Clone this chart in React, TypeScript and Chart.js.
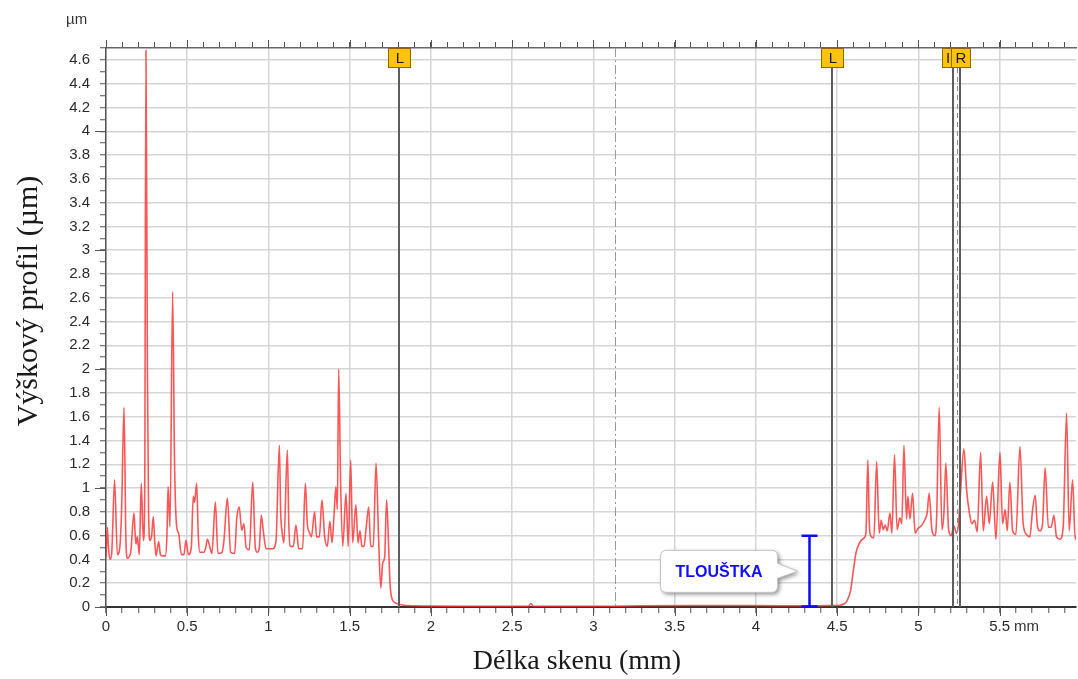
import React, { useEffect, useRef } from 'react';
import { Chart, registerables } from 'chart.js';

Chart.register(...registerables);

// ---- data ----
const profileX = [
  0.000, 0.008, 0.015, 0.025, 0.035, 0.053, 0.070, 0.085, 0.096, 0.111, 0.122, 0.131, 0.152, 0.172, 0.180,
  0.185, 0.193, 0.205, 0.217, 0.230, 0.238, 0.246, 0.255, 0.262, 0.271, 0.281, 0.291, 0.300, 0.308, 0.324,
  0.335, 0.345, 0.365, 0.375, 0.382, 0.394, 0.410, 0.422, 0.435, 0.447, 0.464, 0.480, 0.492, 0.507, 0.525,
  0.537, 0.545, 0.558, 0.568, 0.578, 0.603, 0.614, 0.624, 0.640, 0.652, 0.673, 0.689, 0.714, 0.726, 0.747,
  0.767, 0.792, 0.804, 0.820, 0.835, 0.849, 0.862, 0.882, 0.903, 0.919, 0.931, 0.943, 0.956, 0.968, 0.985,
  1.005, 1.026, 1.046, 1.067, 1.075, 1.083, 1.095, 1.116, 1.125, 1.132, 1.153, 1.169, 1.186, 1.210, 1.227,
  1.239, 1.251, 1.264, 1.284, 1.296, 1.313, 1.329, 1.346, 1.362, 1.378, 1.391, 1.403, 1.415, 1.424, 1.432,
  1.444, 1.457, 1.477, 1.491, 1.506, 1.518, 1.538, 1.551, 1.563, 1.575, 1.588, 1.600, 1.617, 1.629, 1.645,
  1.662, 1.678, 1.691, 1.703, 1.715, 1.727, 1.740, 1.748, 1.760, 1.775, 1.789, 1.830, 1.900, 2.000, 2.200,
  2.600, 2.615, 2.630, 3.000, 3.300, 3.600, 4.000, 4.300, 4.450, 4.517, 4.558, 4.583, 4.600, 4.615, 4.636,
  4.665, 4.677, 4.689, 4.698, 4.706, 4.726, 4.743, 4.759, 4.771, 4.783, 4.796, 4.808, 4.825, 4.837, 4.853,
  4.869, 4.886, 4.898, 4.911, 4.927, 4.935, 4.948, 4.964, 4.980, 4.997, 5.017, 5.042, 5.054, 5.066, 5.083,
  5.100, 5.112, 5.128, 5.145, 5.157, 5.169, 5.186, 5.202, 5.218, 5.235, 5.247, 5.260, 5.280, 5.297, 5.313,
  5.329, 5.346, 5.362, 5.383, 5.399, 5.420, 5.436, 5.457, 5.477, 5.502, 5.518, 5.534, 5.547, 5.563, 5.580,
  5.600, 5.625, 5.645, 5.666, 5.686, 5.703, 5.719, 5.731, 5.748, 5.764, 5.780, 5.800, 5.817, 5.834, 5.850,
  5.871, 5.891, 5.912, 5.928, 5.949, 5.965, 5.970,
];
const profileY = [
  0.42, 0.67, 0.50, 0.40, 0.45, 1.07, 0.44, 0.50, 0.82, 1.68, 0.60, 0.41, 0.46, 0.79, 0.60,
  0.53, 0.59, 0.44, 1.04, 0.56, 0.90, 4.68, 2.00, 0.80, 0.56, 0.60, 0.76, 0.55, 0.43, 0.55,
  0.44, 0.43, 0.43, 0.60, 1.01, 0.675, 2.65, 1.20, 0.675, 0.62, 0.44, 0.44, 0.56, 0.44, 0.50,
  0.93, 0.88, 1.04, 0.60, 0.46, 0.46, 0.50, 0.57, 0.50, 0.45, 0.885, 0.45, 0.46, 0.56, 0.915,
  0.46, 0.45, 0.73, 0.84, 0.645, 0.70, 0.50, 0.48, 1.05, 0.50, 0.46, 0.49, 0.77, 0.64, 0.49,
  0.49, 0.49, 0.55, 1.36, 0.80, 0.64, 0.54, 1.32, 0.70, 0.51, 0.51, 0.69, 0.49, 0.49, 1.04,
  0.70, 0.63, 0.59, 0.80, 0.59, 0.59, 0.90, 0.59, 0.51, 0.72, 0.54, 0.76, 1.01, 0.82, 2.00,
  1.04, 0.51, 0.955, 0.51, 1.235, 0.54, 0.86, 0.54, 0.64, 0.51, 0.51, 0.65, 0.84, 0.51, 0.51,
  1.21, 0.57, 0.16, 0.37, 0.42, 0.90, 0.49, 0.20, 0.07, 0.04, 0.03, 0.015, 0.010, 0.008, 0.006,
  0.006, 0.030, 0.006, 0.005, 0.010, 0.012, 0.012, 0.010, 0.012, 0.015, 0.045, 0.14, 0.31, 0.45, 0.535,
  0.58, 0.62, 1.235, 0.70, 0.60, 0.58, 1.22, 0.62, 0.73, 0.65, 0.69, 0.64, 0.79, 0.62, 1.28,
  0.65, 0.75, 0.70, 1.36, 0.74, 0.93, 0.74, 0.955, 0.62, 0.66, 0.68, 0.74, 0.79, 0.955, 0.65,
  0.60, 0.74, 1.68, 0.65, 0.79, 1.21, 0.65, 0.60, 0.68, 0.62, 0.70, 0.98, 1.33, 0.98, 0.80,
  0.70, 0.73, 0.63, 1.30, 0.64, 0.93, 0.70, 1.05, 0.57, 1.30, 0.70, 0.82, 0.64, 1.05, 0.64,
  0.61, 1.35, 0.70, 0.61, 0.59, 0.82, 0.94, 0.70, 0.64, 0.70, 1.17, 0.67, 0.67, 0.77, 0.59,
  0.57, 0.67, 1.63, 0.64, 1.07, 0.57, 0.60,
];

const xMin = 0;
const xMax = 5.97;
const yMin = 0;
const yMax = 4.7;
const xStep = 0.1;
const yStep = 0.1;
const xLabelEvery = 0.5;
const yLabelEvery = 0.2;

const cursorLabelsL = ['L', 'L'];
const cursorL = [1.805, 4.466];
const cursorI = 5.215;
const cursorR = 5.258;
const cursorMid = 5.236;
const centerLine = 3.13;
const thicknessX = 4.326;
const thicknessTop = 0.6;
const thicknessLabel = 'TLOUŠTKA';
const xTitle = 'Délka skenu (mm)';
const yTitle = 'Výškový profil (µm)';
const yUnit = 'µm';
const xUnit = 'mm';

const SANS = '"Liberation Sans", Arial, sans-serif';
const SERIF = '"Liberation Serif", "Times New Roman", serif';

const isMult = (v: number, m: number) => Math.abs(v / m - Math.round(v / m)) < 1e-6;
const fmt = (v: number) => String(Number(v.toFixed(1)));

const overlayPlugin = {
  id: 'overlay',
  afterDatasetsDraw(chart: any) {
    const { ctx, chartArea: a, scales } = chart;
    const xs = scales.x;
    const ys = scales.y;
    const px = (v: number) => Math.round(xs.getPixelForValue(v)) + 0.5;
    const vline = (x: number, y0: number, y1: number) => {
      ctx.beginPath();
      ctx.moveTo(x, y0);
      ctx.lineTo(x, y1);
      ctx.stroke();
    };
    ctx.save();
    // dash-dot center line
    ctx.strokeStyle = '#9a9a9a';
    ctx.lineWidth = 1;
    ctx.setLineDash([9, 3, 2, 3]);
    vline(px(centerLine), a.top, a.bottom);
    // dashed mid line between I and R
    ctx.setLineDash([5, 4]);
    ctx.strokeStyle = '#8a8a8a';
    vline(px(cursorMid), a.top + 20, a.bottom);
    ctx.setLineDash([]);

    // cursor lines
    ctx.strokeStyle = '#5e5e5e';
    ctx.lineWidth = 2;
    const boxTop = a.top;
    const boxH = 20;
    [...cursorL, cursorI, cursorR].forEach((v) => {
      const x = Math.round(xs.getPixelForValue(v));
      vline(x, boxTop + boxH, a.bottom);
    });

    // cursor boxes
    const drawBox = (x0: number, w: number, label: string, tx: number) => {
      ctx.fillStyle = '#ffc20e';
      ctx.strokeStyle = '#8a6a00';
      ctx.lineWidth = 1;
      ctx.fillRect(x0, boxTop, w, boxH);
      ctx.strokeRect(x0 + 0.5, boxTop + 0.5, w - 1, boxH - 1);
      ctx.fillStyle = '#1a1a1a';
      ctx.font = `15px ${SANS}`;
      ctx.textAlign = 'center';
      ctx.textBaseline = 'middle';
      ctx.fillText(label, tx, boxTop + boxH / 2 + 1);
    };
    cursorL.forEach((v, i) => {
      const x = Math.round(xs.getPixelForValue(v));
      drawBox(x - 11, 23, cursorLabelsL[i], x + 1);
    });
    const xi = Math.round(xs.getPixelForValue(cursorI));
    drawBox(xi - 11, 12, 'I', xi - 5);
    const xr = Math.round(xs.getPixelForValue(cursorR));
    drawBox(xr - 9, 20, 'R', xr + 1);

    // thickness I-beam
    const bx = Math.round(xs.getPixelForValue(thicknessX)) + 0.5;
    const by0 = ys.getPixelForValue(0);
    const by1 = ys.getPixelForValue(thicknessTop);
    ctx.strokeStyle = '#0a0aff';
    ctx.lineWidth = 2.5;
    vline(bx, by1, by0);
    ctx.beginPath();
    ctx.moveTo(bx - 8, by1);
    ctx.lineTo(bx + 8, by1);
    ctx.moveTo(bx - 8, by0 - 0.5);
    ctx.lineTo(bx + 8, by0 - 0.5);
    ctx.stroke();

    // callout
    const cy = ys.getPixelForValue(thicknessTop / 2);
    const tipX = bx - 12;
    const right = tipX - 20;
    const left = right - 117;
    const top = cy - 21;
    const bottom = cy + 21;
    const r = 6;
    ctx.beginPath();
    ctx.moveTo(left + r, top);
    ctx.lineTo(right - r, top);
    ctx.quadraticCurveTo(right, top, right, top + r);
    ctx.lineTo(right, cy - 8);
    ctx.lineTo(tipX, cy);
    ctx.lineTo(right, cy + 7);
    ctx.lineTo(right, bottom - r);
    ctx.quadraticCurveTo(right, bottom, right - r, bottom);
    ctx.lineTo(left + r, bottom);
    ctx.quadraticCurveTo(left, bottom, left, bottom - r);
    ctx.lineTo(left, top + r);
    ctx.quadraticCurveTo(left, top, left + r, top);
    ctx.closePath();
    ctx.save();
    ctx.shadowColor = 'rgba(0,0,0,0.45)';
    ctx.shadowBlur = 4;
    ctx.shadowOffsetX = 2;
    ctx.shadowOffsetY = 2;
    ctx.fillStyle = '#ffffff';
    ctx.fill();
    ctx.restore();
    ctx.strokeStyle = '#c4c4c4';
    ctx.lineWidth = 1;
    ctx.stroke();
    ctx.fillStyle = '#1010ff';
    ctx.font = `bold 16px ${SANS}`;
    ctx.textAlign = 'center';
    ctx.textBaseline = 'middle';
    ctx.fillText(thicknessLabel, (left + right) / 2, cy + 1);
    ctx.restore();
  },
  afterDraw(chart: any) {
    const { ctx, chartArea: a, scales } = chart;
    const xs = scales.x;
    const ys = scales.y;
    ctx.save();
    ctx.strokeStyle = '#555';
    ctx.lineWidth = 1;
    // longer ticks on integers (y)
    for (let v = 0; v <= yMax; v += 1) {
      const y = Math.round(ys.getPixelForValue(v)) + 0.5;
      ctx.beginPath();
      ctx.moveTo(a.left - 11, y);
      ctx.lineTo(a.left, y);
      ctx.stroke();
    }
    // longer ticks on 0.5 multiples (x, top and bottom)
    for (let i = 0; i * xLabelEvery <= xMax; i++) {
      const x = Math.round(xs.getPixelForValue(i * xLabelEvery)) + 0.5;
      ctx.beginPath();
      ctx.moveTo(x, a.bottom);
      ctx.lineTo(x, a.bottom + 9);
      ctx.moveTo(x, a.top - 8);
      ctx.lineTo(x, a.top);
      ctx.stroke();
    }
    // unit labels
    ctx.fillStyle = '#333';
    ctx.font = `15px ${SANS}`;
    ctx.textAlign = 'left';
    ctx.textBaseline = 'alphabetic';
    ctx.fillText(yUnit, 66, 24);
    const x55 = xs.getPixelForValue(5.5);
    const w55 = ctx.measureText('5.5').width;
    ctx.textBaseline = 'middle';
    ctx.fillText(xUnit, x55 + w55 / 2 + 4, 627);
    // axis titles
    ctx.fillStyle = '#1a1a1a';
    ctx.font = `28px ${SERIF}`;
    ctx.textAlign = 'center';
    ctx.textBaseline = 'alphabetic';
    ctx.fillText(xTitle, 577, 669);
    ctx.save();
    ctx.font = `30px ${SERIF}`;
    ctx.translate(37, 301);
    ctx.rotate(-Math.PI / 2);
    ctx.fillText(yTitle, 0, 0);
    ctx.restore();
    ctx.restore();
  },
};

export default function App() {
  const ref = useRef<HTMLCanvasElement | null>(null);
  useEffect(() => {
    if (!ref.current) return;
    const data = profileX.map((x, i) => ({ x, y: profileY[i] }));
    const chart = new Chart(ref.current, {
      type: 'line',
      data: {
        datasets: [
          {
            data,
            borderColor: 'rgba(255,45,45,0.8)',
            borderWidth: 1.6,
            pointRadius: 0,
            fill: false,
            cubicInterpolationMode: 'monotone',
            xAxisID: 'x',
            yAxisID: 'y',
          },
        ],
      },
      options: {
        animation: false,
        responsive: false,
        devicePixelRatio: 1,
        layout: { padding: { left: 0, right: 2, top: 0, bottom: 0 } },
        plugins: { legend: { display: false }, tooltip: { enabled: false } },
        events: [],
        scales: {
          x: {
            type: 'linear',
            position: 'bottom',
            min: xMin,
            max: xMax,
            afterFit: (s: any) => { s.height = 72; },
            border: { color: '#333', width: 2 },
            grid: {
              color: (c: any) => (c.tick && isMult(c.tick.value, xLabelEvery) ? '#d6d6d6' : 'rgba(0,0,0,0)'),
              lineWidth: 1.5,
              tickColor: '#555',
              tickLength: 6,
              tickWidth: 1,
            },
            ticks: {
              stepSize: xStep,
              includeBounds: false,
              autoSkip: false,
              maxRotation: 0,
              padding: 5,
              color: '#2b2b2b',
              font: { family: SANS, size: 15 },
              callback: (v: any) => (isMult(Number(v), xLabelEvery) ? fmt(Number(v)) : ''),
            },
          },
          x2: {
            type: 'linear',
            position: 'top',
            min: xMin,
            max: xMax,
            afterFit: (s: any) => { s.height = 48; },
            border: { color: '#666', width: 1.5 },
            grid: { drawOnChartArea: false, tickColor: '#555', tickLength: 6, tickWidth: 1 },
            ticks: { stepSize: xStep, includeBounds: false, autoSkip: false, maxRotation: 0, callback: () => '' },
          },
          y: {
            type: 'linear',
            position: 'left',
            min: yMin,
            max: yMax,
            afterFit: (s: any) => { s.width = 106; },
            border: { color: '#555', width: 1.5 },
            grid: {
              color: (c: any) => (c.tick && isMult(c.tick.value, yLabelEvery) ? '#d6d6d6' : 'rgba(0,0,0,0)'),
              lineWidth: 1.5,
              tickColor: '#555',
              tickLength: 6,
              tickWidth: 1,
            },
            ticks: {
              stepSize: yStep,
              includeBounds: false,
              autoSkip: false,
              padding: 10,
              color: '#2b2b2b',
              font: { family: SANS, size: 15 },
              callback: (v: any) => (isMult(Number(v), yLabelEvery) ? fmt(Number(v)) : ''),
            },
          },
        },
      },
      plugins: [overlayPlugin],
    } as any);
    return () => chart.destroy();
  }, []);
  return (
    <div style={{ position: 'fixed', left: 0, top: 0, width: 1078, height: 679, background: '#fff' }}>
      <canvas ref={ref} width={1078} height={679} style={{ display: 'block', width: 1078, height: 679 }} />
    </div>
  );
}
